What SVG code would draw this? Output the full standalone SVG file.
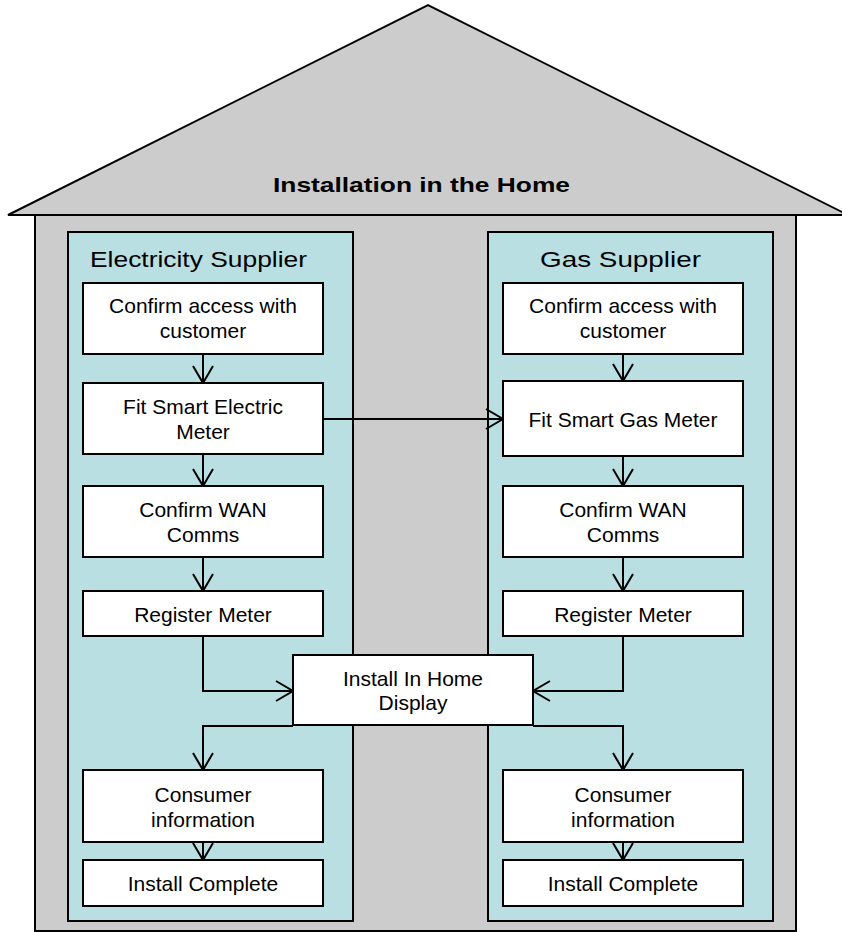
<svg xmlns="http://www.w3.org/2000/svg" width="842" height="932" viewBox="0 0 842 932">
<defs>
<style>
.house{fill:#cccccc;stroke:#000;stroke-width:2}
.panel{fill:#badfe2;stroke:#000;stroke-width:2}
.box{fill:#fff;stroke:#000;stroke-width:2}
.t{font-family:"Liberation Sans",Arial,sans-serif;font-size:21px;fill:#000;text-anchor:middle}
.h{font-family:"Liberation Sans",Arial,sans-serif;font-size:22px;fill:#000}
.title{font-family:"Liberation Sans",Arial,sans-serif;font-size:21px;font-weight:bold;fill:#000}
.c{fill:none;stroke:#000;stroke-width:2}
</style>
<marker id="arr" viewBox="0 0 20 24" refX="18" refY="12" markerWidth="20" markerHeight="24" markerUnits="userSpaceOnUse" orient="auto">
<path d="M1,2 L18,12 L1,22" fill="none" stroke="#000" stroke-width="2"/>
</marker>
</defs>
<g id="house">
<rect class="house" x="35" y="215" width="761" height="716"/>
<polygon class="house" points="8,215 428,5 848,215"/>
<text class="title" x="273" y="192" textLength="297" lengthAdjust="spacingAndGlyphs">Installation in the Home</text>
</g>
<g id="electricity-supplier">
<rect class="panel" x="68" y="232" width="285" height="689"/>
<text class="h" x="90" y="266.5" textLength="217" lengthAdjust="spacingAndGlyphs">Electricity Supplier</text>
</g>
<g id="gas-supplier">
<rect class="panel" x="488" y="232" width="285" height="689"/>
<text class="h" x="540" y="266.5" textLength="161" lengthAdjust="spacingAndGlyphs">Gas Supplier</text>
</g>
<g id="connectors">
<path class="c" d="M203,354 V383" marker-end="url(#arr)"/>
<path class="c" d="M203,454 V486" marker-end="url(#arr)"/>
<path class="c" d="M203,557 V591" marker-end="url(#arr)"/>
<path class="c" d="M203,636 V691 H293" marker-end="url(#arr)"/>
<path class="c" d="M293,726 H203 V770" marker-end="url(#arr)"/>
<path class="c" d="M203,842 V860" marker-end="url(#arr)"/>
<path class="c" d="M623,354 V381" marker-end="url(#arr)"/>
<path class="c" d="M623,456 V486" marker-end="url(#arr)"/>
<path class="c" d="M623,557 V591" marker-end="url(#arr)"/>
<path class="c" d="M623,636 V691 H533" marker-end="url(#arr)"/>
<path class="c" d="M533,726 H623 V770" marker-end="url(#arr)"/>
<path class="c" d="M623,842 V860" marker-end="url(#arr)"/>
<path class="c" d="M323,419 H503" marker-end="url(#arr)"/>
</g>
<g id="e-confirm-access">
<rect class="box" x="83" y="283" width="240" height="71"/>
<text class="t" x="203" y="313">Confirm access with</text>
<text class="t" x="203" y="338">customer</text>
</g>
<g id="e-fit-meter">
<rect class="box" x="83" y="383" width="240" height="71"/>
<text class="t" x="203" y="414">Fit Smart Electric</text>
<text class="t" x="203" y="439">Meter</text>
</g>
<g id="e-confirm-wan">
<rect class="box" x="83" y="486" width="240" height="71"/>
<text class="t" x="203" y="517">Confirm WAN</text>
<text class="t" x="203" y="542">Comms</text>
</g>
<g id="e-register">
<rect class="box" x="83" y="591" width="240" height="45"/>
<text class="t" x="203" y="622">Register Meter</text>
</g>
<g id="e-consumer-info">
<rect class="box" x="83" y="770" width="240" height="72"/>
<text class="t" x="203" y="802">Consumer</text>
<text class="t" x="203" y="827">information</text>
</g>
<g id="e-install-complete">
<rect class="box" x="83" y="860" width="240" height="46"/>
<text class="t" x="203" y="891">Install Complete</text>
</g>
<g id="g-confirm-access">
<rect class="box" x="503" y="283" width="240" height="71"/>
<text class="t" x="623" y="313">Confirm access with</text>
<text class="t" x="623" y="338">customer</text>
</g>
<g id="g-fit-meter">
<rect class="box" x="503" y="381" width="240" height="75"/>
<text class="t" x="623" y="427">Fit Smart Gas Meter</text>
</g>
<g id="g-confirm-wan">
<rect class="box" x="503" y="486" width="240" height="71"/>
<text class="t" x="623" y="517">Confirm WAN</text>
<text class="t" x="623" y="542">Comms</text>
</g>
<g id="g-register">
<rect class="box" x="503" y="591" width="240" height="45"/>
<text class="t" x="623" y="622">Register Meter</text>
</g>
<g id="g-consumer-info">
<rect class="box" x="503" y="770" width="240" height="72"/>
<text class="t" x="623" y="802">Consumer</text>
<text class="t" x="623" y="827">information</text>
</g>
<g id="g-install-complete">
<rect class="box" x="503" y="860" width="240" height="46"/>
<text class="t" x="623" y="891">Install Complete</text>
</g>
<g id="install-ihd">
<rect class="box" x="293" y="655" width="240" height="70"/>
<text class="t" x="413" y="686">Install In Home</text>
<text class="t" x="413" y="710">Display</text>
</g>
</svg>
